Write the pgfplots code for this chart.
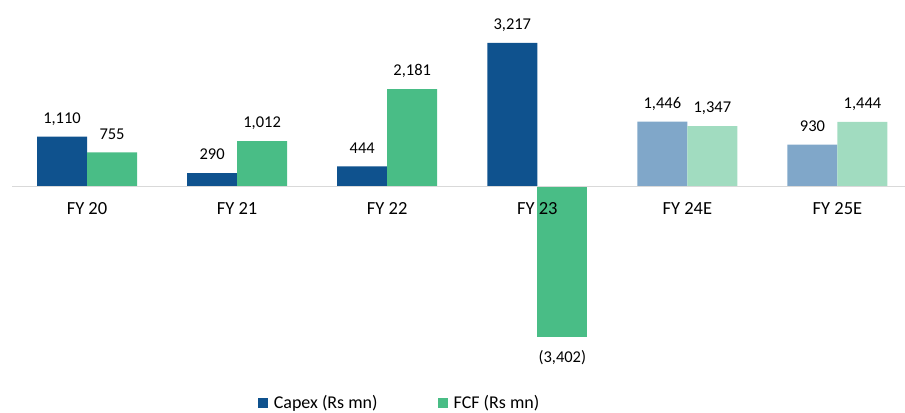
\documentclass[border=0pt]{standalone}
\usepackage{pgfplots}
\pgfplotsset{compat=1.18}
\usepackage{fontspec}
\setmainfont{Carlito}
\definecolor{capex}{HTML}{0F528E}
\definecolor{fcf}{HTML}{49BD86}
\definecolor{capexl}{HTML}{80A7C9}
\definecolor{fcfl}{HTML}{A1DCC0}
\begin{document}
\begin{tikzpicture}[x=1bp,y=1bp]
\useasboundingbox (0,0) rectangle (905,-412);
\begin{axis}[
  at={(12bp,0bp)}, anchor=north west,
  scale only axis, width=893bp, height=345bp,
  xmin=-0.5, xmax=5.45, ymin=-3577, ymax=4184,
  axis on top,
  axis x line=middle, axis y line=none,
  axis line style={-, draw=black!15, line width=0.8bp},
  xtick={0,1,2,3,4,5},
  xticklabels={FY 20,FY 21,FY 22,FY 23,FY 24E,FY 25E},
  major tick length=0pt,
  xticklabel style={font=\fontsize{18.5bp}{22bp}\selectfont, anchor=north, inner sep=0pt, yshift=-16.5bp},
  ybar, bar width=50bp,
  point meta=explicit symbolic,
  nodes near coords,
  nodes near coords style={font=\fontsize{16.5bp}{20bp}\selectfont, inner xsep=0pt, inner ysep=13bp, text depth=0pt, black},
  legend columns=2,
  legend style={draw=none, fill=none, at={(0.434,-0.168)}, anchor=center,
    font=\fontsize{18bp}{22bp}\selectfont,
    /tikz/every odd column/.append style={column sep=4bp},
    /tikz/every even column/.append style={column sep=58bp}},
  legend image code/.code={\fill[#1] (0bp,-5bp) rectangle (10bp,5bp);},
]
\addplot[fill=capex, draw=none, bar shift=-25bp] table[meta=lab] {
x y lab
0 1110 1,110
1 290 290
2 444 444
3 3217 3,217
};
\addlegendentry{Capex (Rs mn)}
\addplot[fill=fcf, draw=none, bar shift=25bp] table[meta=lab] {
x y lab
0 755 755
1 1012 1,012
2 2181 2,181
};
\addlegendentry{FCF (Rs mn)}
\addplot[fill=fcf, draw=none, bar shift=25bp, forget plot,
  every node near coord/.append style={anchor=north}] table[meta=lab] {
x y lab
3 -3402 (3,402)
};
\addplot[fill=capexl, draw=none, bar shift=-25bp, forget plot] table[meta=lab] {
x y lab
4 1446 1,446
5 930 930
};
\addplot[fill=fcfl, draw=none, bar shift=25bp, forget plot] table[meta=lab] {
x y lab
4 1347 1,347
5 1444 1,444
};
\end{axis}
\end{tikzpicture}
\end{document}
